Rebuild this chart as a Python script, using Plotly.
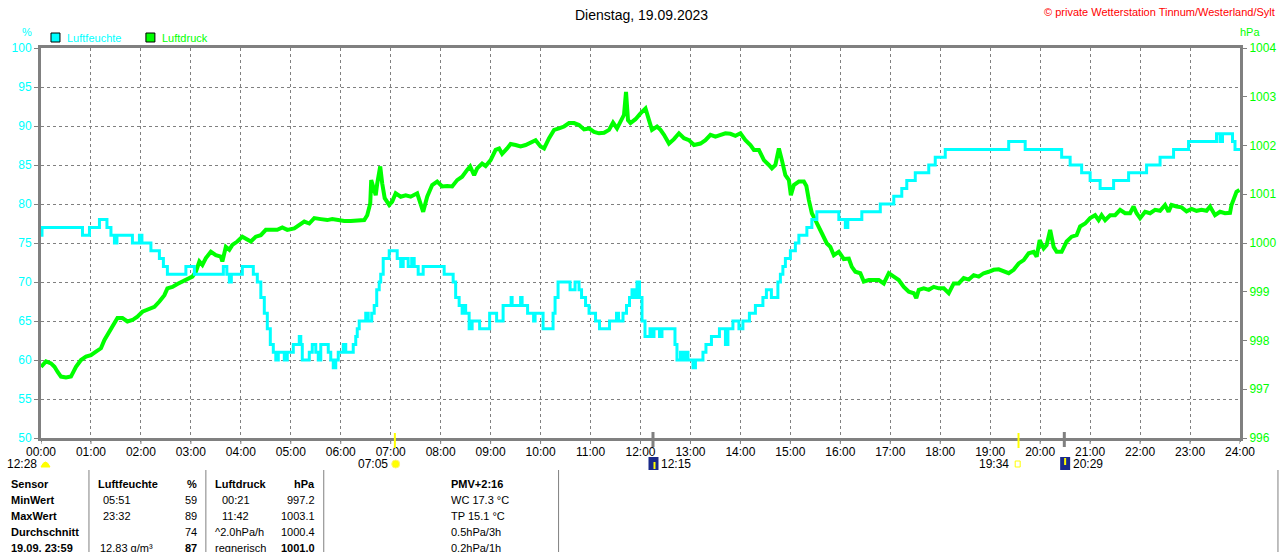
import plotly.graph_objects as go

# ---------------- data ----------------
hum_t = [0.00, 0.02, 0.83, 0.97, 1.17, 1.32, 1.40, 1.47, 1.52, 1.83, 1.97, 2.02, 2.20, 2.37,
         2.45, 2.53, 2.90, 3.07, 3.65, 3.72, 3.77, 3.81, 4.03, 4.25, 4.33, 4.40, 4.47, 4.53,
         4.59, 4.65, 4.70, 4.75, 4.87, 4.93, 5.05, 5.17, 5.20, 5.23, 5.37, 5.43, 5.50, 5.55,
         5.60, 5.75, 5.80, 5.85, 5.90, 5.95, 6.05, 6.10, 6.25, 6.30, 6.33, 6.37, 6.50, 6.55,
         6.62, 6.67, 6.72, 6.77, 6.80, 6.85, 6.97, 7.13, 7.17, 7.20, 7.25, 7.35, 7.42, 7.47,
         7.55, 7.65, 8.07, 8.25, 8.30, 8.37, 8.43, 8.47, 8.50, 8.57, 8.63, 8.78, 8.98, 9.12,
         9.25, 9.41, 9.43, 9.60, 9.63, 9.74, 9.86, 9.89, 10.05, 10.25, 10.29, 10.35, 10.59,
         10.69, 10.77, 10.82, 10.90, 10.97, 11.10, 11.18, 11.38, 11.52, 11.56, 11.65, 11.72,
         11.78, 11.83, 11.88, 11.93, 11.98, 12.03, 12.09, 12.19, 12.24, 12.27, 12.38, 12.43,
         12.65, 12.69, 12.73, 12.80, 12.85, 12.90, 12.95, 13.05, 13.10, 13.25, 13.31, 13.42,
         13.58, 13.70, 13.75, 13.85, 13.97, 14.05, 14.18, 14.30, 14.45, 14.52, 14.62, 14.75,
         14.80, 14.85, 14.90, 15.00, 15.10, 15.17, 15.33, 15.43, 15.53, 15.97, 16.10, 16.15,
         16.43, 16.80, 17.07, 17.23, 17.33, 17.50, 17.77, 17.90, 18.10, 19.37, 19.70, 20.43,
         20.60, 20.83, 21.00, 21.20, 21.47, 21.77, 22.13, 22.40, 22.67, 22.97, 23.53, 23.60,
         23.65, 23.85, 23.90, 24.00]
hum_v = [76, 77, 76, 77, 78, 77, 76, 75, 76, 75, 76, 75, 74, 73,
         72, 71, 72, 71, 72, 71, 70, 71, 72, 71, 70, 68, 66, 64,
         62, 61, 60, 61, 60, 61, 62, 63, 62, 60, 61, 62, 61, 60,
         62, 61, 60, 59, 60, 61, 62, 61, 62, 63, 64, 65, 66, 65,
         66, 67, 69, 70, 71, 73, 74, 73, 73, 72, 73, 72, 73, 72,
         71, 72, 71, 70, 68, 67, 66, 67, 66, 64, 65, 64, 66, 65,
         67, 68, 67, 68, 67, 66, 65, 66, 64, 66, 68, 70, 69,
         70, 69, 68, 67, 66, 65, 64, 65, 66, 65, 66, 67,
         68, 69, 68, 70, 68, 65, 63, 64, 63, 64, 63, 64,
         64, 62, 60, 61, 60, 61, 60, 59, 60, 61, 62, 63,
         64, 62, 64, 65, 64, 65, 66, 67, 68, 69, 68, 70,
         71, 72, 73, 74, 75, 76, 77, 78, 79, 78, 77, 78,
         79, 80, 81, 82, 83, 84, 85, 86, 87, 88, 87, 86,
         85, 84, 83, 82, 83, 84, 85, 86, 87, 88, 89, 88,
         89, 88, 87, 87]

pres_t = [0.00, 0.10, 0.20, 0.27, 0.33, 0.40, 0.50, 0.60, 0.70, 0.80, 0.90, 1.00, 1.10, 1.20,
          1.27, 1.37, 1.43, 1.53, 1.63, 1.73, 1.83, 1.93, 2.03, 2.13, 2.27, 2.37, 2.47, 2.53,
          2.63, 2.73, 2.83, 2.93, 3.03, 3.10, 3.17, 3.23, 3.30, 3.40, 3.50, 3.60, 3.63, 3.70,
          3.77, 3.83, 3.93, 4.03, 4.13, 4.20, 4.30, 4.40, 4.50, 4.60, 4.73, 4.83, 4.93, 5.07,
          5.17, 5.27, 5.37, 5.47, 5.60, 5.73, 5.83, 5.93, 6.07, 6.20, 6.33, 6.47, 6.53, 6.59,
          6.61, 6.65, 6.70, 6.73, 6.79, 6.83, 6.88, 6.97, 7.03, 7.10, 7.20, 7.30, 7.40, 7.53,
          7.60, 7.65, 7.73, 7.83, 7.93, 8.03, 8.13, 8.23, 8.33, 8.43, 8.53, 8.59, 8.67, 8.73,
          8.83, 8.90, 9.00, 9.10, 9.17, 9.23, 9.33, 9.40, 9.50, 9.60, 9.70, 9.80, 9.90, 10.00,
          10.07, 10.17, 10.27, 10.37, 10.47, 10.57, 10.67, 10.77, 10.87, 10.97, 11.07, 11.17,
          11.27, 11.37, 11.45, 11.53, 11.61, 11.67, 11.71, 11.75, 11.80, 11.90, 12.00, 12.10,
          12.17, 12.23, 12.33, 12.40, 12.47, 12.57, 12.67, 12.77, 12.87, 12.97, 13.07, 13.20,
          13.30, 13.40, 13.50, 13.60, 13.70, 13.80, 13.90, 14.00, 14.10, 14.20, 14.27, 14.37,
          14.47, 14.57, 14.63, 14.70, 14.77, 14.83, 14.90, 14.97, 15.01, 15.07, 15.17, 15.27,
          15.32, 15.37, 15.43, 15.50, 15.57, 15.63, 15.73, 15.80, 15.87, 15.97, 16.07, 16.17,
          16.23, 16.30, 16.40, 16.47, 16.57, 16.67, 16.77, 16.87, 16.97, 17.07, 17.17, 17.27,
          17.37, 17.47, 17.52, 17.57, 17.67, 17.77, 17.87, 17.97, 18.07, 18.17, 18.27, 18.37,
          18.47, 18.57, 18.67, 18.77, 18.87, 18.97, 19.07, 19.17, 19.27, 19.37, 19.47, 19.57,
          19.67, 19.77, 19.87, 19.93, 19.99, 20.07, 20.13, 20.20, 20.27, 20.33, 20.43, 20.53,
          20.63, 20.73, 20.80, 20.90, 21.00, 21.10, 21.17, 21.23, 21.30, 21.40, 21.50, 21.60,
          21.70, 21.80, 21.87, 21.93, 22.00, 22.10, 22.20, 22.30, 22.40, 22.50, 22.57, 22.63,
          22.73, 22.83, 22.93, 23.03, 23.13, 23.23, 23.33, 23.40, 23.50, 23.60, 23.70, 23.80,
          23.83, 23.88, 23.93, 23.99]
pres_v = [997.46, 997.57, 997.53, 997.46, 997.36, 997.26, 997.24, 997.26, 997.46, 997.60, 997.67, 997.70, 997.77, 997.84,
          998.01, 998.18, 998.32, 998.46, 998.46, 998.39, 998.42, 998.49, 998.59, 998.63, 998.69, 998.80, 998.93, 999.07,
          999.10, 999.16, 999.21, 999.24, 999.31, 999.41, 999.62, 999.55, 999.69, 999.82, 999.75, 999.72, 999.62, 999.92,
          999.86, 999.96, 1000.03, 1000.13, 1000.06, 1000.03, 1000.13, 1000.16, 1000.27, 1000.27, 1000.27, 1000.32, 1000.27, 1000.30,
          1000.37, 1000.44, 1000.40, 1000.51, 1000.49, 1000.47, 1000.49, 1000.47, 1000.45, 1000.45, 1000.45, 1000.47, 1000.57, 1000.81,
          1001.29, 1001.16, 1000.98, 1001.22, 1001.57, 1001.22, 1000.92, 1000.78, 1000.85, 1001.02, 1000.95, 1000.98, 1000.95, 1001.02,
          1000.81, 1000.64, 1000.95, 1001.19, 1001.26, 1001.16, 1001.17, 1001.16, 1001.29, 1001.36, 1001.50, 1001.57, 1001.39, 1001.53,
          1001.63, 1001.58, 1001.70, 1001.91, 1001.94, 1001.83, 1001.94, 1002.03, 1002.01, 1001.98, 1002.01, 1002.06, 1002.11, 1001.98,
          1001.94, 1002.15, 1002.32, 1002.35, 1002.39, 1002.46, 1002.46, 1002.42, 1002.33, 1002.35, 1002.28, 1002.25,
          1002.26, 1002.32, 1002.47, 1002.35, 1002.52, 1002.63, 1003.10, 1002.52, 1002.46, 1002.54, 1002.66, 1002.76,
          1002.52, 1002.32, 1002.39, 1002.32, 1002.22, 1002.04, 1002.13, 1002.25, 1002.15, 1002.11, 1002.01, 1002.04,
          1002.11, 1002.22, 1002.18, 1002.22, 1002.25, 1002.24, 1002.20, 1002.25, 1002.11, 1002.01, 1001.91, 1001.91,
          1001.70, 1001.60, 1001.53, 1001.60, 1001.94, 1001.70, 1001.39, 1001.29, 1000.98, 1001.19, 1001.26, 1001.26,
          1001.17, 1000.88, 1000.61, 1000.47, 1000.34, 1000.20, 999.99, 999.92, 999.75, 999.82, 999.67, 999.68,
          999.51, 999.41, 999.38, 999.21, 999.24, 999.25, 999.24, 999.17, 999.38, 999.31, 999.24, 999.10,
          999.00, 998.97, 998.87, 999.04, 999.07, 999.04, 999.10, 999.07, 999.07, 998.97, 999.17, 999.17,
          999.28, 999.25, 999.34, 999.31, 999.38, 999.41, 999.45, 999.46, 999.41, 999.38, 999.45, 999.58,
          999.65, 999.79, 999.82, 999.72, 1000.06, 999.89, 999.96, 1000.27, 999.92, 999.82, 999.82, 1000.03,
          1000.13, 1000.16, 1000.34, 1000.40, 1000.51, 1000.57, 1000.47, 1000.57, 1000.47, 1000.57, 1000.57, 1000.68,
          1000.61, 1000.61, 1000.75, 1000.61, 1000.51, 1000.64, 1000.61, 1000.68, 1000.66, 1000.78, 1000.64, 1000.78,
          1000.75, 1000.73, 1000.65, 1000.70, 1000.66, 1000.68, 1000.66, 1000.75, 1000.57, 1000.64, 1000.61, 1000.62,
          1000.78, 1000.95, 1001.05, 1001.09]

hour_ticks = list(range(0, 25))
hour_labels = [f"{h:02d}:00" for h in hour_ticks]
hum_ticks = list(range(50, 101, 5))
pres_ticks = list(range(996, 1005))

sun_times = [7 + 5 / 60, 19 + 34 / 60]      # Sonnenaufgang / -untergang
moon_times = [12 + 15 / 60, 20 + 29 / 60]   # Mondaufgang / -untergang

title_text = "Dienstag, 19.09.2023"
copyright_text = "© private Wetterstation Tinnum/Westerland/Sylt"

table_rows = [
    ["Sensor", "Luftfeuchte", "", "%", "Luftdruck", "", "hPa", "PMV+2:16"],
    ["MinWert", "", "05:51", "59", "", "00:21", "997.2", "WC 17.3 °C"],
    ["MaxWert", "", "23:32", "89", "", "11:42", "1003.1", "TP 15.1 °C"],
    ["Durchschnitt", "", "", "74", "^2.0hPa/h", "", "1000.4", "0.5hPa/3h"],
    ["19.09. 23:59", "12.83 g/m³", "", "87", "regnerisch", "", "1001.0", "0.2hPa/1h"],
]

# ---------------- layout helpers (pixel -> paper) ----------------
W, H = 1288, 552
L, R, T, B = 40, 1240, 48, 438   # plot box in target picture pixels


def px(x):
    return (x - L) / (R - L)


def py(y):
    return (B - y) / (B - T)


FONT = "Liberation Sans, Arial, sans-serif"
CYAN = "#00FFFF"
GREEN = "#00FF00"
GREY = "#808080"

fig = go.Figure()
fig.add_trace(go.Scatter(x=pres_t, y=pres_v, yaxis="y", mode="lines", name="Luftdruck",
                         line=dict(color=GREEN, width=4), showlegend=False, hoverinfo="skip"))
fig.add_trace(go.Scatter(x=hum_t, y=hum_v, yaxis="y2", mode="lines", name="Luftfeuchte",
                         line=dict(color=CYAN, width=3, shape="hv"), showlegend=False, hoverinfo="skip"))

annotations = []
shapes = []


def txt(x, y, s, anchor="left", bold=False, color="black", size=11):
    if bold:
        s = f"<b>{s}</b>"
    annotations.append(dict(x=px(x), y=py(y), xref="paper", yref="paper", text=s, showarrow=False,
                            xanchor=anchor, yanchor="middle", font=dict(family=FONT, size=size, color=color)))


# title & copyright
txt(641, 15, title_text, anchor="center", size=14)
txt(1277, 12, copyright_text, anchor="right", color="#FF0000", size=11)

# axis units
txt(26, 32, "%", anchor="center", color=CYAN)
txt(1250, 32, "hPa", anchor="center", color=GREEN)

# legend
shapes.append(dict(type="rect", xref="paper", yref="paper", x0=px(50), x1=px(59), y0=py(42), y1=py(33),
                   fillcolor=CYAN, line=dict(color="black", width=1)))
txt(64, 38, "Luftfeuchte", color=CYAN)
shapes.append(dict(type="rect", xref="paper", yref="paper", x0=px(145), x1=px(154), y0=py(42), y1=py(33),
                   fillcolor=GREEN, line=dict(color="black", width=1)))
txt(159, 38, "Luftdruck", color=GREEN)

# hour tick marks below the time axis
for t in hour_ticks:
    shapes.append(dict(type="line", xref="x", yref="paper", x0=t, x1=t, y0=py(439), y1=py(444),
                       line=dict(color=GREY, width=1)))

# sun / moon markers on the time axis
for t in sun_times:
    shapes.append(dict(type="line", xref="x", yref="paper", x0=t, x1=t, y0=py(433), y1=py(448),
                       line=dict(color="#FFFF00", width=2)))
for t in moon_times:
    shapes.append(dict(type="line", xref="x", yref="paper", x0=t, x1=t, y0=py(432), y1=py(447),
                       line=dict(color=GREY, width=3)))

# event labels below axis
txt(38, 464, "12:28", anchor="right", size=12)
shapes.append(dict(type="path", xref="paper", yref="paper",
                   path=f"M {px(40)} {py(467)} Q {px(44.5)} {py(457)} {px(49)} {py(467)} Z",
                   fillcolor="#FFFF00", line=dict(color="#FFFF00", width=1)))
txt(389, 464, "07:05", anchor="right", size=12)
shapes.append(dict(type="circle", xref="paper", yref="paper", x0=px(391), x1=px(399), y0=py(468), y1=py(460),
                   fillcolor="#FFFF00", line=dict(color="#FFF27A", width=1)))
shapes.append(dict(type="rect", xref="paper", yref="paper", x0=px(648), x1=px(658), y0=py(470), y1=py(457),
                   fillcolor="#1A2A8A", line=dict(width=0)))
shapes.append(dict(type="line", xref="paper", yref="paper", x0=px(654), x1=px(654), y0=py(469), y1=py(462),
                   line=dict(color="#FFFF00", width=2)))
txt(659, 464, "12:15", anchor="left", size=12)
txt(1011, 464, "19:34", anchor="right", size=12)
shapes.append(dict(type="rect", xref="paper", yref="paper", x0=px(1015), x1=px(1020), y0=py(467), y1=py(461),
                   fillcolor="white", line=dict(color="#FFFF00", width=1)))
shapes.append(dict(type="rect", xref="paper", yref="paper", x0=px(1060), x1=px(1070), y0=py(470), y1=py(457),
                   fillcolor="#1A2A8A", line=dict(width=0)))
shapes.append(dict(type="line", xref="paper", yref="paper", x0=px(1065), x1=px(1065), y0=py(465), y1=py(458),
                   line=dict(color="#FFFF00", width=2)))
txt(1071, 464, "20:29", anchor="left", size=12)

# table separators
for xs in [88, 205, 323, 558, 1278]:
    shapes.append(dict(type="line", xref="paper", yref="paper", x0=px(xs), x1=px(xs), y0=py(470), y1=py(560),
                       line=dict(color=GREY, width=1)))

row_y = [484, 500, 516, 532, 548]
for i, row in enumerate(table_rows):
    y = row_y[i]
    head = (i == 0)
    last = (i == len(table_rows) - 1)
    txt(8, y, row[0], bold=True)
    if row[1]:
        txt(95 if head else 97, y, row[1], bold=head)
    if row[2]:
        txt(100, y, row[2])
    txt(198, y, row[3], anchor="right", bold=head or last)
    if row[4]:
        txt(212, y, row[4], bold=head)
    if row[5]:
        txt(219, y, row[5])
    txt(316, y, row[6], anchor="right", bold=head or last)
    txt(448, y, row[7], bold=head)

fig.update_layout(
    width=W, height=H,
    margin=dict(l=40, r=40, t=T, b=H - B),
    paper_bgcolor="white", plot_bgcolor="white",
    font=dict(family=FONT, size=11, color="black"),
    showlegend=False,
    xaxis=dict(range=[0, 24], tickvals=hour_ticks, ticktext=hour_labels,
               showgrid=True, gridcolor=GREY, griddash="3px,3px", gridwidth=1,
               showline=True, linecolor=GREY, linewidth=3, mirror=True,
               ticks="outside", ticklen=1, tickcolor=GREY, tickwidth=1,
               tickfont=dict(family=FONT, size=12, color="black"), zeroline=False, fixedrange=True),
    yaxis=dict(range=[996, 1004], tickvals=pres_ticks, side="right",
               showgrid=False, showline=True, linecolor=GREY, linewidth=3,
               ticks="outside", ticklen=4, tickcolor=GREY,
               tickfont=dict(family=FONT, size=12, color=GREEN), zeroline=False),
    yaxis2=dict(range=[50, 100], tickvals=hum_ticks, side="left", overlaying="y",
                showgrid=True, gridcolor=GREY, griddash="3px,3px", gridwidth=1,
                showline=True, linecolor=GREY, linewidth=3,
                ticks="outside", ticklen=4, tickcolor=GREY,
                tickfont=dict(family=FONT, size=12, color=CYAN), zeroline=False),
    annotations=annotations,
    shapes=shapes,
)

fig.write_html(
    "out.html", config={"displayModeBar": False},
    post_script=("document.documentElement.style.margin='0';document.documentElement.style.overflow='hidden';"
                 "document.body.style.margin='0';document.body.style.overflow='hidden';"
                 "var d=document.getElementById('{plot_id}');d.style.position='fixed';"
                 "d.style.left='0px';d.style.top='0px';"))
